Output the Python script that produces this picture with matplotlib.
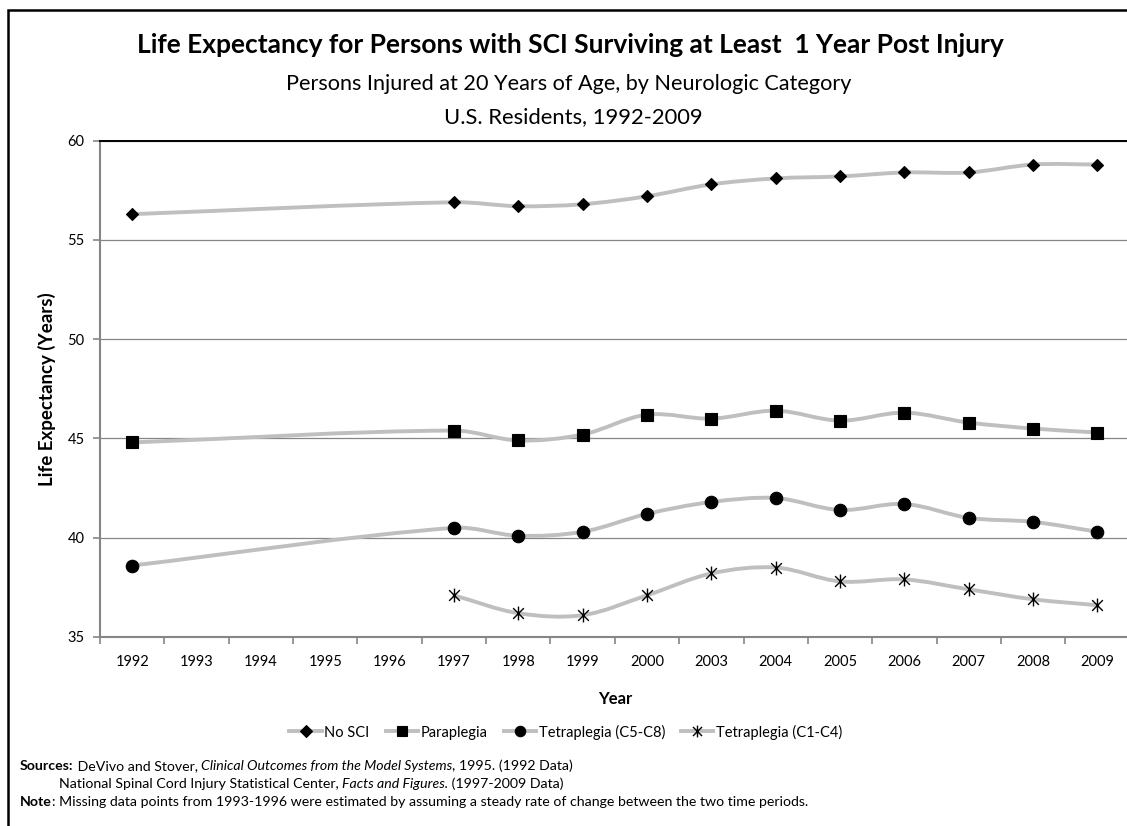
import matplotlib
matplotlib.use("Agg")
import matplotlib.pyplot as plt
import numpy as np
from matplotlib.path import Path
from matplotlib.patches import PathPatch, Rectangle
from matplotlib.lines import Line2D

plt.rcParams['font.family'] = ['Lato', 'DejaVu Sans']

# category axis (1993-1996 have no data, 2001-2002 are not shown)
years = ['1992', '1993', '1994', '1995', '1996', '1997', '1998', '1999',
         '2000', '2003', '2004', '2005', '2006', '2007', '2008', '2009']
data_years = ['1992', '1997', '1998', '1999', '2000', '2003', '2004',
              '2005', '2006', '2007', '2008', '2009']

no_sci = [56.3, 56.9, 56.7, 56.8, 57.2, 57.8, 58.1, 58.2, 58.4, 58.4, 58.8, 58.8]
paraplegia = [44.8, 45.4, 44.9, 45.2, 46.2, 46.0, 46.4, 45.9, 46.3, 45.8, 45.5, 45.3]
tetra_c5c8 = [38.6, 40.5, 40.1, 40.3, 41.2, 41.8, 42.0, 41.4, 41.7, 41.0, 40.8, 40.3]
tetra_c1c4 = [None, 37.1, 36.2, 36.1, 37.1, 38.2, 38.5, 37.8, 37.9, 37.4, 36.9, 36.6]

W, H = 1127, 826
fig = plt.figure(figsize=(W / 100, H / 100), dpi=100)

# plot area in pixels: left, right, top, bottom
L, R, T, B = 100, 1129.6, 140.7, 637
ax = fig.add_axes([L / W, 1 - B / H, (R - L) / W, (B - T) / H])
ax.set_xlim(-0.5, len(years) - 0.5)
ax.set_ylim(35, 60)

# asterisk-style star marker: X plus a vertical bar
star = Path([(-1, -1), (1, 1), (-1, 1), (1, -1), (0, -1.3), (0, 1.3)],
            [Path.MOVETO, Path.LINETO, Path.MOVETO, Path.LINETO, Path.MOVETO, Path.LINETO])

line_col = '#bfbfbf'
grid_col = '#868686'

# pixel size of one x category / one y unit, so smoothing is done in screen space
sx = (R - L) / len(years)
sy = (B - T) / 25.0


def smooth_path(xs, ys):
    # smoothed line: cubic Bezier segments, tangent along neighbour chord,
    # handle length a third of each segment (no overshoot across gaps)
    pts = np.column_stack([np.asarray(xs) * sx, np.asarray(ys) * sy]).astype(float)
    n = len(pts)
    tang = []
    for i in range(n):
        d = pts[min(i + 1, n - 1)] - pts[max(i - 1, 0)]
        tang.append(d / np.hypot(*d))
    verts = [pts[0]]
    codes = [Path.MOVETO]
    for i in range(n - 1):
        seg = np.hypot(*(pts[i + 1] - pts[i]))
        c1 = pts[i] + tang[i] * seg / 3.0
        c2 = pts[i + 1] - tang[i + 1] * seg / 3.0
        verts += [c1, c2, pts[i + 1]]
        codes += [Path.CURVE4] * 3
    verts = np.array(verts) / [sx, sy]
    return Path(verts, codes)


series = [
    ('No SCI', no_sci, 'D', 6.6, 6.0),
    ('Paraplegia', paraplegia, 's', 9.0, 7.5),
    ('Tetraplegia (C5-C8)', tetra_c5c8, 'o', 9.0, 7.5),
    ('Tetraplegia (C1-C4)', tetra_c1c4, star, 10.0, 8.5),
]

handles = []
for name, vals, mk, ms, lms in series:
    xs = [years.index(y) for y, v in zip(data_years, vals) if v is not None]
    ys = [v for v in vals if v is not None]
    ax.add_patch(PathPatch(smooth_path(xs, ys), fill=False, edgecolor=line_col,
                           lw=2.8, capstyle='round', joinstyle='round', zorder=3))
    mew = 1.0 if mk is star else 0.8
    ax.plot(xs, ys, linestyle='none', marker=mk, ms=ms, mfc='black',
            mec='black', mew=mew, zorder=4)
    handles.append(Line2D([], [], color=line_col, lw=2.8, marker=mk,
                          ms=lms, mfc='black', mec='black', mew=mew, label=name))

ax.set_xticks(range(len(years)))
ax.set_xticklabels(years)
ax.set_xticks(np.arange(-0.5, len(years), 1.0), minor=True)
ax.tick_params(axis='x', which='major', length=0, pad=13, labelsize=10.5, colors='black')
ax.tick_params(axis='x', which='minor', length=5, width=1.2, color=grid_col)
ax.set_yticks([35, 40, 45, 50, 55, 60])
ax.tick_params(axis='y', length=5, width=1.2, color=grid_col, labelsize=10.5, pad=6)

ax.yaxis.grid(True, color=grid_col, lw=0.9)
ax.set_axisbelow(True)
for side in ['left', 'bottom']:
    ax.spines[side].set_color(grid_col)
    ax.spines[side].set_linewidth(1.5)
ax.spines['right'].set_visible(False)
ax.spines['top'].set_color('black')
ax.spines['top'].set_linewidth(1.4)

ax.set_xlabel('Year', fontsize=12, fontweight='bold', labelpad=16)
ax.set_ylabel('Life Expectancy (Years)', fontsize=13.5, fontweight='bold', labelpad=8)

fig.legend(handles=handles, loc='center', bbox_to_anchor=(566 / W, 1 - 732 / H),
           ncol=4, frameon=False, fontsize=10.5, handlelength=2.2,
           handletextpad=0.2, columnspacing=1.1, numpoints=1)

fig.text(570 / W, 1 - 45 / H,
         'Life Expectancy for Persons with SCI Surviving at Least  1 Year Post Injury',
         ha='center', va='center', fontsize=19, fontweight='bold')
fig.text(569 / W, 1 - 84 / H, 'Persons Injured at 20 Years of Age, by Neurologic Category',
         ha='center', va='center', fontsize=15.6)
fig.text(573 / W, 1 - 117 / H, 'U.S. Residents, 1992-2009',
         ha='center', va='center', fontsize=15.8)


def text_run(x_px, y_px, parts, size=10.2):
    # draw consecutive text pieces with their own weight/style on one line
    fig.canvas.draw()
    r = fig.canvas.get_renderer()
    x = x_px
    for s, kw in parts:
        t = fig.text(x / W, 1 - y_px / H, s, ha='left', va='center', fontsize=size, **kw)
        x += t.get_window_extent(renderer=r).width


text_run(20, 766, [('Sources:', {'fontweight': 'bold'}),
                   (' DeVivo and Stover, ', {}),
                   ('Clinical Outcomes from the Model Systems', {'fontstyle': 'italic'}),
                   (', 1995. (1992 Data)', {})])
text_run(59, 784, [('National Spinal Cord Injury Statistical Center, ', {}),
                   ('Facts and Figures.', {'fontstyle': 'italic'}),
                   (' (1997-2009 Data)', {})])
text_run(20, 802, [('Note', {'fontweight': 'bold'}),
                   (': Missing data points from 1993-1996 were estimated by assuming '
                    'a steady rate of change between the two time periods.', {})])

# outer frame of the chart area
fig.add_artist(Rectangle((8 / W, -0.1), 1.2, 1.1 - 10 / H, transform=fig.transFigure,
                         fill=False, edgecolor='black', lw=1.8))

fig.savefig('out.png', dpi=100)
